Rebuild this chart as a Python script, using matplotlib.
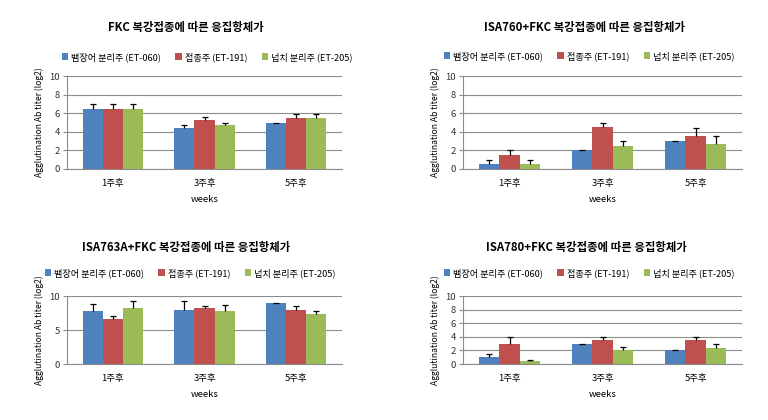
import matplotlib
matplotlib.use("Agg")
import matplotlib.pyplot as plt
import numpy as np

plt.rcParams['font.family'] = ['Noto Sans CJK KR', 'DejaVu Sans']

categories = ["1주후", "3주후", "5주후"]
series_names = ["뱀장어 분리주 (ET-060)", "접종주 (ET-191)", "넙치 분리주 (ET-205)"]
colors = ["#4F81BD", "#C0504D", "#9BBB59"]

titles = ["FKC 복강접종에 따른 응집항체가",
          "ISA760+FKC 복강접종에 따른 응집항체가",
          "ISA763A+FKC 복강접종에 따른 응집항체가",
          "ISA780+FKC 복강접종에 따른 응집항체가"]

# values per panel: [eel, inoculum, flounder] x [1w, 3w, 5w]
fkc_vals = [[6.5, 4.4, 5.0], [6.5, 5.3, 5.5], [6.5, 4.7, 5.5]]
fkc_err = [[0.5, 0.3, 0.0], [0.5, 0.3, 0.4], [0.5, 0.3, 0.4]]

isa760_vals = [[0.5, 2.0, 3.0], [1.5, 4.5, 3.6], [0.5, 2.5, 2.7]]
isa760_err = [[0.5, 0.0, 0.0], [0.5, 0.5, 0.85], [0.5, 0.5, 0.8]]

isa763_vals = [[7.8, 7.9, 8.9], [6.6, 8.3, 7.9], [8.3, 7.8, 7.3]]
isa763_err = [[1.0, 1.3, 0.0], [0.45, 0.25, 0.7], [0.9, 0.85, 0.45]]

isa780_vals = [[1.0, 3.0, 2.0], [3.0, 3.6, 3.55], [0.4, 2.05, 2.4]]
isa780_err = [[0.5, 0.0, 0.0], [1.0, 0.4, 0.45], [0.25, 0.5, 0.6]]

yticks_a = [0, 2, 4, 6, 8, 10]
yticks_b = [0, 5, 10]

W, H = 768, 420
fig = plt.figure(figsize=(W / 100, H / 100), dpi=100)

def px_axes(x0, y0, x1, y1):
    return fig.add_axes([x0 / W, (H - y1) / H, (x1 - x0) / W, (y1 - y0) / H])

panels = [
    (px_axes(67, 76, 342, 169), fkc_vals, fkc_err, yticks_a, titles[0], (186, 28), (207, 57)),
    (px_axes(463, 76, 742, 169), isa760_vals, isa760_err, yticks_a, titles[1], (585, 27), (589, 56)),
    (px_axes(67, 296, 342, 364), isa763_vals, isa763_err, yticks_b, titles[2], (186, 247), (190, 273)),
    (px_axes(463, 296, 742, 364), isa780_vals, isa780_err, yticks_a, titles[3], (586, 247), (589, 273)),
]

grid_c = "#8C8C8C"
x = np.arange(len(categories))
bw = 0.22
for ax, vals, errs, yt, title, tpos, lpos in panels:
    handles = []
    for i, (v, e) in enumerate(zip(vals, errs)):
        xs = x + (i - 1) * bw
        b = ax.bar(xs, v, bw, color=colors[i], zorder=3)
        handles.append(b)
        eb = ax.errorbar(xs, v, yerr=[np.zeros(len(e)), e], fmt="none", ecolor="black",
                         elinewidth=0.9, capsize=2.4, capthick=0.9, zorder=4)
        caps = eb[1]
        if len(caps) >= 2:
            caps[0].set_visible(False)
    ax.set_xlim(-0.5, 2.5)
    ax.set_ylim(0, 10)
    ax.set_yticks(yt)
    ax.yaxis.grid(True, color=grid_c, linewidth=0.8, zorder=0)
    ax.set_axisbelow(True)
    for s in ["top", "right"]:
        ax.spines[s].set_visible(False)
    ax.spines["left"].set_color(grid_c)
    ax.spines["bottom"].set_color(grid_c)
    ax.tick_params(axis="y", length=3, color=grid_c, labelsize=6.8, labelcolor="#333333", pad=2)
    ax.tick_params(axis="x", length=0, labelsize=6.8, pad=7)
    ax.set_xticks(x)
    ax.set_xticklabels(categories)
    ax.set_xlabel("weeks", fontsize=6.8, labelpad=5)
    ax.set_ylabel("Agglutination Ab titer (log2)", fontsize=6.2, labelpad=4)
    fig.text(tpos[0] / W, 1 - tpos[1] / H, title, ha="center", va="center",
             fontsize=8.2, fontweight="bold")
    fig.legend(handles, series_names, loc="center", ncol=3,
               bbox_to_anchor=(lpos[0] / W, 1 - lpos[1] / H),
               frameon=False, fontsize=6.6, handlelength=0.7, handleheight=0.7,
               handletextpad=0.3, columnspacing=1.6, borderpad=0)

fig.savefig("out.png", dpi=100)
